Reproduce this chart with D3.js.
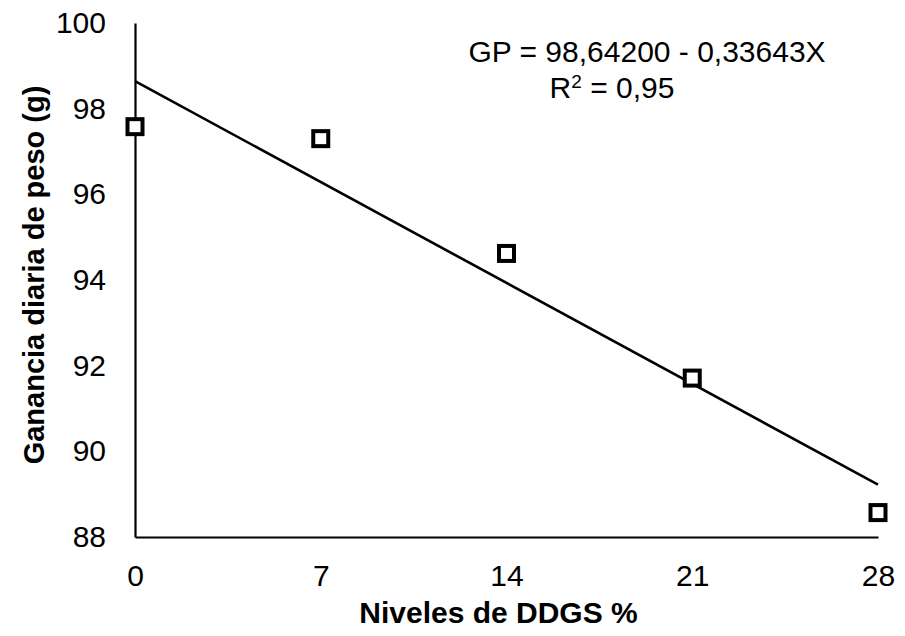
<!DOCTYPE html>
<html>
<head>
<meta charset="utf-8">
<script src="https://cdn.jsdelivr.net/npm/d3@7"></script>
<style>
body{margin:0;background:#fff;}
svg{display:block;font-family:"Liberation Sans",Arial,sans-serif;}
</style>
</head>
<body>
<svg id="c" width="905" height="636"></svg>
<script>
const levels = [0, 7, 14, 21, 28];
const gain = [97.58, 97.3, 94.62, 91.71, 88.57];
const xTicks = [0, 7, 14, 21, 28];
const yTicks = [88, 90, 92, 94, 96, 98, 100];
const intercept = 98.642;
const slope = -0.33643;
const eqLine1 = "GP = 98,64200 - 0,33643X";
const xTitle = "Niveles de DDGS %";
const yTitle = "Ganancia diaria de peso (g)";

const svg = d3.select("#c");
const x = d3.scaleLinear().domain([0, 28]).range([135, 878]);
const y = d3.scaleLinear().domain([88, 100]).range([537, 23]);

// axes
const xAxis = svg.append("g").attr("transform", `translate(0,${y(88)})`)
  .call(d3.axisBottom(x).tickValues(xTicks).tickSize(0).tickPadding(28));
const yAxis = svg.append("g").attr("transform", `translate(${x(0)},0)`)
  .call(d3.axisLeft(y).tickValues(yTicks).tickSize(0).tickPadding(29));
[xAxis, yAxis].forEach(a => {
  a.select(".domain").attr("stroke", "#000").attr("stroke-width", 2.2);
  a.selectAll("text").attr("font-size", 30).attr("fill", "#000")
   .attr("font-family", "Liberation Sans, Arial, sans-serif");
});

// regression line
svg.append("line")
  .attr("x1", x(0)).attr("y1", y(intercept))
  .attr("x2", x(28)).attr("y2", y(intercept + slope * 28))
  .attr("stroke", "#000").attr("stroke-width", 2.6);

// points
svg.append("g").selectAll("rect").data(levels).join("rect")
  .attr("x", (d) => x(d) - 7.5)
  .attr("y", (d, i) => y(gain[i]) - 7.5)
  .attr("width", 15).attr("height", 15)
  .attr("fill", "#fff").attr("stroke", "#000").attr("stroke-width", 4);

// equation
svg.append("text").attr("x", 647).attr("y", 62).attr("text-anchor", "middle")
  .attr("font-size", 30).text(eqLine1);
const r2 = svg.append("text").attr("x", 612).attr("y", 98).attr("text-anchor", "middle")
  .attr("font-size", 30);
r2.append("tspan").text("R");
r2.append("tspan").attr("dy", -10).attr("font-size", 19).text("2");
r2.append("tspan").attr("dy", 10).text(" = 0,95");

// titles
svg.append("text").attr("x", (x(0) + x(28)) / 2 - 8).attr("y", 623).attr("text-anchor", "middle")
  .attr("font-size", 30).attr("font-weight", "bold").text(xTitle);
svg.append("text").attr("transform", `translate(44,275) rotate(-90)`)
  .attr("text-anchor", "middle").attr("font-size", 29).attr("font-weight", "bold").text(yTitle);
</script>
</body>
</html>
